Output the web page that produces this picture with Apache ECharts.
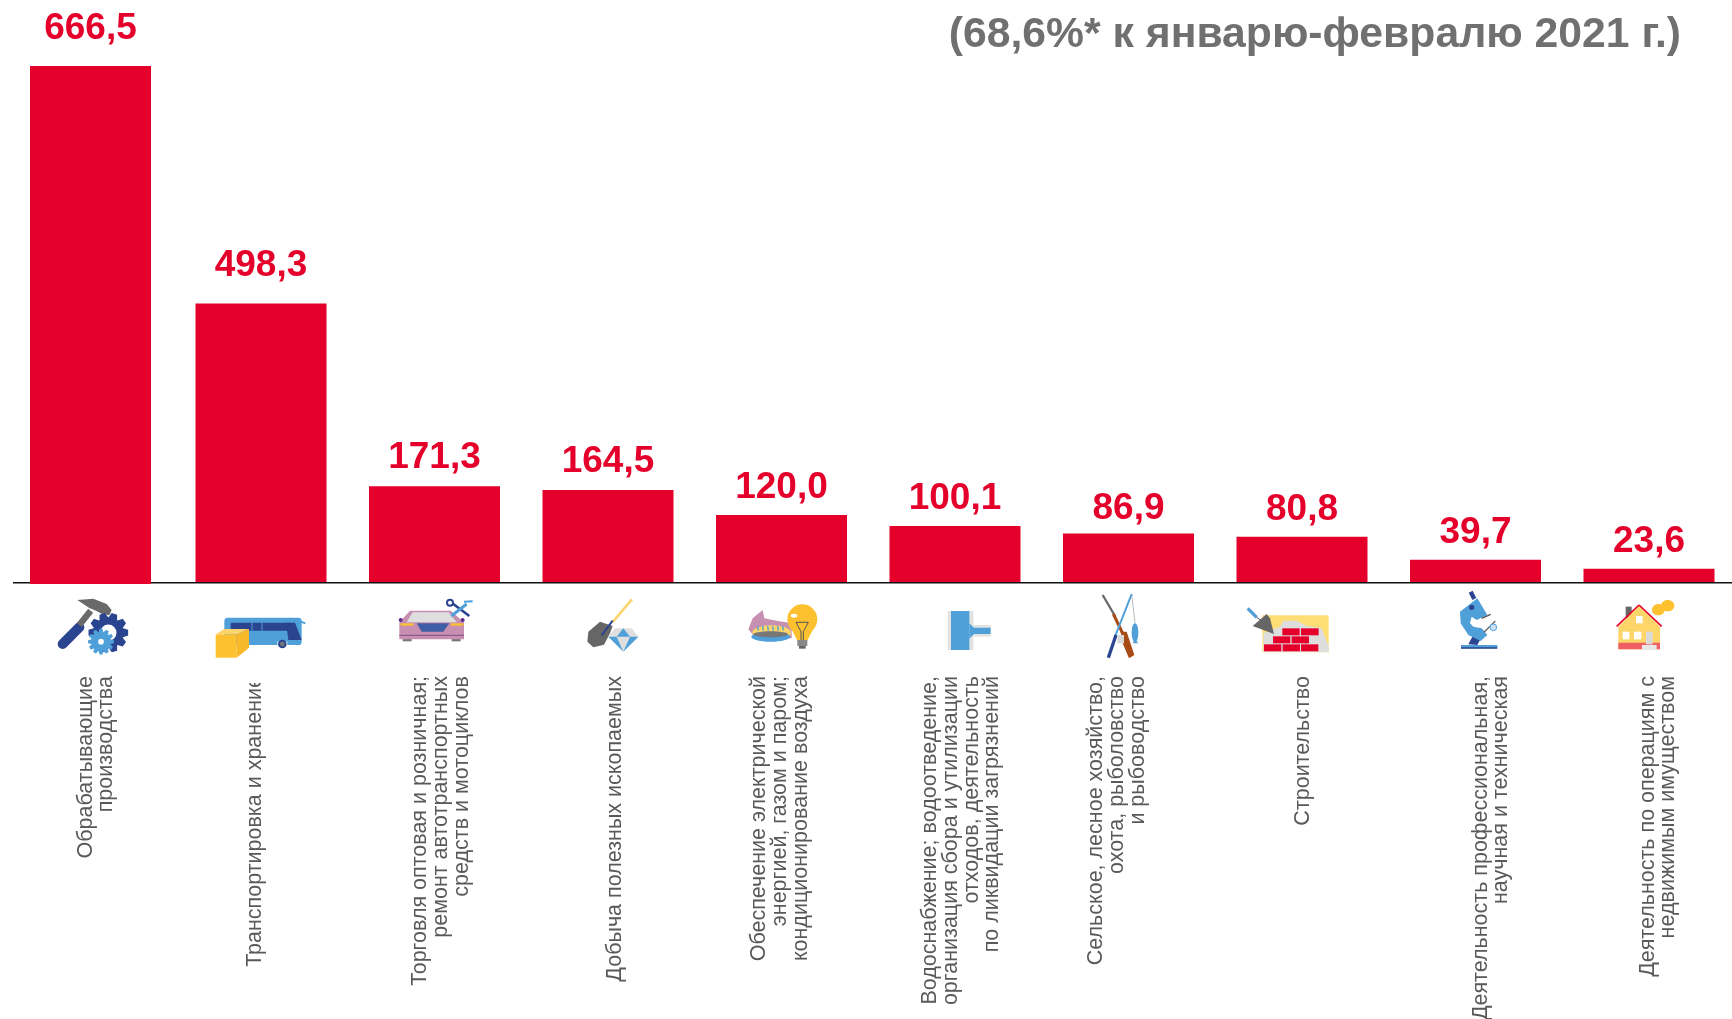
<!DOCTYPE html>
<html><head><meta charset="utf-8">
<style>html,body{margin:0;padding:0;background:#fff}#c{width:1732px;height:1019px}</style>
<script src="https://cdn.jsdelivr.net/npm/echarts@6/dist/echarts.min.js"></script>
</head><body><div id="c"></div>
<script>
const categories = [
  'Обрабатывающие\nпроизводства',
  'Транспортировка и хранение',
  'Торговля оптовая и розничная;\nремонт автотранспортных\nсредств и мотоциклов',
  'Добыча полезных ископаемых',
  'Обеспечение электрической\nэнергией, газом и паром;\nкондиционирование воздуха',
  'Водоснабжение; водоотведение,\nорганизация сбора и утилизации\nотходов, деятельность\nпо ликвидации загрязнений',
  'Сельское, лесное хозяйство,\nохота, рыболовство\nи рыбоводство',
  'Строительство',
  'Деятельность профессиональная,\nнаучная и техническая',
  'Деятельность по операциям с\nнедвижимым имуществом'
];
const values = [666.5, 498.3, 171.3, 164.5, 120.0, 100.1, 86.9, 80.8, 39.7, 23.6];
const titleText = '(68,6%* к январю-февралю 2021 г.)';
const labelShift = [8.5, -6, 6.5, 7, -1.5, 6.5, -11.5, 1.5, 15.5, 9];
const labelGap = [18.5, 19, 10, 9.5, 9, 9, 6, 9, 9, 9];

const RED = '#e4002b', DARK = '#2a4490', BLUE = '#4f9fd9', GREY = '#6a6a6a', YEL = '#fdc02f', PALE = '#fed569', PINK = '#c790b0';
const fmt = v => v.toFixed(1).replace('.', ',');
const seriesLabel = i => ({show: true, position: 'top', distance: labelGap[i], formatter: p => fmt(p.value),
  fontFamily: 'Liberation Sans', fontWeight: 'bold', fontSize: 37, color: RED});
const toData = keep => values.map((v, i) => keep(i) ? {value: v, label: seriesLabel(i)} : null);

/* icons: decorative drawings, coordinates taken at 3x around an origin */
const gfx = [];
function pen(ox, oy) {
  const X = x => ox + x / 3, Y = y => oy + y / 3;
  const base = {silent: true, z: 5};
  return {
    poly(pts, fill) { gfx.push({...base, type: 'polygon', shape: {points: pts.map(p => [X(p[0]), Y(p[1])])}, style: {fill}}); },
    line(x1, y1, x2, y2, stroke, w, cap) { gfx.push({...base, type: 'line', shape: {x1: X(x1), y1: Y(y1), x2: X(x2), y2: Y(y2)}, style: {stroke, lineWidth: w / 3, lineCap: cap || 'butt'}}); },
    rect(x1, y1, x2, y2, fill, r) { gfx.push({...base, type: 'rect', shape: {x: X(x1), y: Y(y1), width: (x2 - x1) / 3, height: (y2 - y1) / 3, r: (r || 0) / 3}, style: {fill}}); },
    circle(x, y, r, fill, stroke, w) { gfx.push({...base, type: 'circle', shape: {cx: X(x), cy: Y(y), r: r / 3}, style: {fill: fill || 'none', stroke: stroke || 'none', lineWidth: (w || 0) / 3}}); },
    ell(x, y, rx, ry, fill) { gfx.push({...base, type: 'ellipse', shape: {cx: X(x), cy: Y(y), rx: rx / 3, ry: ry / 3}, style: {fill}}); },
    gear(cx, cy, ro, ri, n, fill) {
      const pts = [];
      for (let k = 0; k < n; k++) {
        const a = 2 * Math.PI * k / n, s = Math.PI / n;
        [[ri, -s * .95], [ro, -s * .45], [ro, s * .45], [ri, s * .95]].forEach(q => pts.push([cx + q[0] * Math.cos(a + q[1]), cy + q[0] * Math.sin(a + q[1])]));
      }
      this.poly(pts, fill);
    }
  };
}
let p = pen(40, 590);
/* hammer + gears */
p.line(68, 162, 118, 112, DARK, 30, 'round');
p.line(118, 105, 152, 62, GREY, 19);
p.poly([[112, 30], [160, 26], [200, 42], [215, 60], [208, 76], [186, 72], [168, 62], [148, 54], [130, 42]], GREY);
p.gear(205, 128, 60, 46, 10, DARK);
p.circle(205, 128, 27, '#fff', DARK, 5);
p.gear(183, 155, 39, 29, 12, BLUE);
p.circle(183, 155, 11, '#fff', BLUE, 5);
/* bus + box */
p.rect(553, 83, 785, 165, BLUE, 10);
p.rect(572, 98, 755, 122, DARK, 3);
p.line(636, 98, 636, 122, BLUE, 3); p.line(666, 98, 666, 122, BLUE, 3);
p.poly([[738, 98], [765, 98], [785, 150], [745, 150]], DARK);
p.line(770, 90, 796, 100, BLUE, 6);
p.rect(712, 155, 742, 170, '#fff');
p.circle(727, 162, 10, '#777', DARK, 6);
p.poly([[527, 133], [590, 133], [590, 203], [527, 203]], YEL);
p.poly([[590, 133], [627, 117], [627, 173], [590, 203]], '#f7b92a');
p.poly([[527, 133], [553, 117], [627, 117], [590, 133]], '#fdd36b');
/* car + scissors */
p.rect(1088, 145, 1115, 154, '#777'); p.rect(1235, 145, 1262, 154, '#777');
p.poly([[1078, 97], [1110, 62], [1232, 62], [1272, 97], [1272, 148], [1078, 148]], PINK);
p.poly([[1100, 97], [1118, 67], [1226, 67], [1250, 97]], '#dedede');
p.poly([[1130, 100], [1228, 100], [1210, 125], [1145, 125]], '#3f5ea5');
p.rect(1082, 100, 1120, 107, YEL); p.rect(1232, 100, 1270, 107, YEL);
p.line(1078, 136, 1272, 136, '#8a4a90', 3);
p.circle(1082, 90, 6, '#5a2d8c'); p.circle(1268, 90, 6, '#5a2d8c');
p.line(1240, 42, 1288, 78, DARK, 8);
p.circle(1230, 38, 9, '#fff', DARK, 6);
p.line(1234, 78, 1280, 42, BLUE, 9);
p.line(1272, 35, 1298, 34, BLUE, 6);

p = pen(570, 590);
/* shovel + diamond */
p.line(186, 28, 128, 96, '#fdd36b', 8);
p.poly([[90, 95], [128, 108], [120, 130], [102, 164], [70, 172], [52, 155], [55, 125]], '#666');
p.line(128, 92, 95, 136, DARK, 6);
p.poly([[115, 140], [135, 115], [185, 115], [205, 140], [160, 185]], '#dfdfdf');
p.poly([[140, 140], [160, 115], [180, 140]], BLUE);
p.poly([[115, 140], [140, 140], [160, 185]], BLUE);
p.poly([[205, 140], [180, 140], [160, 185]], BLUE);
/* burner + bulb */
p.poly([[535, 118], [548, 85], [578, 60], [583, 85], [620, 92], [665, 100], [665, 145], [560, 148]], PINK);
p.ell(605, 128, 58, 22, PALE);
p.ell(602, 140, 58, 15, BLUE);
p.ell(602, 133, 52, 9, '#777');
for (const x of [565, 580, 595, 610, 625, 640]) p.line(x, 122, x - 2, 108, BLUE, 4);
p.poly([[662, 112], [732, 112], [712, 152], [682, 152]], YEL);
p.circle(697, 88, 45, YEL);
p.rect(682, 150, 712, 168, '#888'); p.rect(687, 168, 707, 176, '#666');
p.line(678, 97, 715, 97, '#555', 3); p.line(678, 97, 693, 125, '#555', 3); p.line(715, 97, 700, 125, '#555', 3);
p.line(693, 125, 693, 150, '#555', 3); p.line(700, 125, 700, 150, '#555', 3);
p.ell(672, 77, 10, 6, '#fff');
/* pipe */
p.rect(1133, 63, 1210, 180, '#e2e2e2');
p.rect(1210, 105, 1262, 140, '#e2e2e2');
p.rect(1143, 63, 1198, 180, BLUE);
p.poly([[1198, 100], [1212, 113], [1262, 113], [1262, 132], [1212, 132], [1198, 146]], BLUE);

p = pen(1080, 590);
/* rifle + rod + fish */
p.line(68, 15, 105, 78, GREY, 7);
p.line(100, 72, 128, 130, '#a84a16', 9);
p.poly([[122, 125], [140, 125], [163, 195], [147, 205], [128, 160]], '#a84a16');
p.line(155, 12, 105, 140, BLUE, 6);
p.line(108, 135, 85, 203, DARK, 10);
p.line(155, 12, 165, 100, '#999', 2);
p.rect(112, 135, 132, 160, '#d8d8d8');
p.ell(165, 128, 10, 28, BLUE);
p.poly([[165, 148], [175, 160], [158, 160]], BLUE);
/* bricks + trowel */
p.rect(547, 76, 746, 187, '#fedd75');
p.poly([[550, 186], [550, 130], [600, 110], [610, 92], [650, 92], [680, 108], [725, 115], [746, 170], [746, 186]], '#dedede');
[[607, 115, 659], [663, 115, 716], [579, 139, 631], [635, 139, 687], [552, 163, 604], [608, 163, 660], [663, 163, 715]]
  .forEach(b => p.rect(b[0], b[1], b[2], b[1] + 21, RED));
p.line(503, 55, 530, 82, BLUE, 10);
p.line(530, 82, 545, 92, '#555', 3);
p.poly([[518, 108], [560, 72], [570, 85], [582, 132]], '#666');

p = pen(1440, 585);
/* microscope */
p.rect(63, 180, 172, 190, BLUE);
p.rect(63, 187, 172, 191, DARK);
p.poly([[85, 178], [100, 150], [120, 165], [112, 180]], DARK);
p.line(92, 20, 103, 42, DARK, 13);
p.poly([[60, 80], [112, 40], [142, 90], [110, 105], [95, 95], [90, 115], [100, 125], [125, 130], [142, 150], [122, 168], [85, 150], [62, 115]], BLUE);
p.circle(95, 67, 8, DARK);
p.line(125, 100, 152, 88, '#555', 4);
p.line(132, 142, 166, 108, '#666', 4);
p.circle(160, 127, 10, '#cfe0f2', BLUE, 3);
/* house + coins */
p.rect(557, 65, 575, 100, '#666');
p.poly([[535, 125], [597, 62], [660, 125], [660, 193], [535, 193]], PALE);
p.rect(535, 173, 660, 193, '#ef5f63');
p.line(530, 124, 597, 60, RED, 5); p.line(597, 60, 665, 124, RED, 5);
[[588, 93, 608, 115], [548, 140, 568, 163], [582, 140, 604, 163]].forEach(w => p.rect(w[0], w[1], w[2], w[3], '#fff'));
p.rect(618, 140, 638, 178, '#dadada');
p.rect(606, 180, 650, 195, '#e8e8e8');
p.ell(655, 74, 19, 17, YEL); p.ell(683, 62, 20, 17, YEL);

/* axis baseline */
gfx.push({type: 'line', silent: true, z: 1, shape: {x1: 13, y1: 582.7, x2: 1732, y2: 582.7}, style: {stroke: '#111', lineWidth: 1.6}});
/* the reference cuts the last letter of the second label */
gfx.push({type: 'rect', silent: true, z: 100, shape: {x: 240, y: 668, width: 32, height: 15}, style: {fill: '#fff'}});

const chart = echarts.init(document.getElementById('c'), null, {renderer: 'canvas'});
chart.setOption({
  animation: false,
  title: {text: titleText, right: 46, top: 9, textStyle: {fontFamily: 'Liberation Sans', fontWeight: 'bold', fontSize: 42.7, color: '#707070'}},
  grid: [
    {left: 0.75, width: 1735, top: 302.5, height: 279.5, outerBoundsMode: 'none'},
    {left: 3.75, width: 1735, top: 66, height: 518, outerBoundsMode: 'none'}
  ],
  xAxis: [
    {type: 'category', gridIndex: 0, data: categories, axisLine: {show: false}, axisTick: {show: false}, axisLabel: {show: false}},
    {type: 'category', gridIndex: 1, data: categories, show: false}
  ],
  yAxis: [
    {type: 'value', gridIndex: 0, min: 0, max: 500, show: false},
    {type: 'value', gridIndex: 1, min: 0, max: 666.5, show: false}
  ],
  series: [
    {type: 'bar', name: 'Прочие виды', xAxisIndex: 0, yAxisIndex: 0, barWidth: 131, z: 0, itemStyle: {color: RED}, data: toData(i => i > 0)},
    {type: 'bar', name: 'Обрабатывающие производства', xAxisIndex: 1, yAxisIndex: 1, barWidth: 121, z: 3, itemStyle: {color: RED}, data: toData(i => i === 0)},
    {type: 'custom', name: 'Подписи', xAxisIndex: 0, yAxisIndex: 0, silent: true, clip: false,
     data: categories.map((c, i) => [i, 0]),
     renderItem: (params, api) => {
       const i = api.value(0), pt = api.coord([i, 0]);
       return {type: 'text', x: pt[0] + labelShift[i], y: pt[1] + 94, rotation: Math.PI / 2,
         style: {text: categories[i], align: 'right', verticalAlign: 'middle',
           fontFamily: 'Liberation Sans', fontSize: 21.5, lineHeight: 20.7, fill: '#595959'}};
     }}
  ],
  graphic: {elements: gfx}
});
</script></body></html>
